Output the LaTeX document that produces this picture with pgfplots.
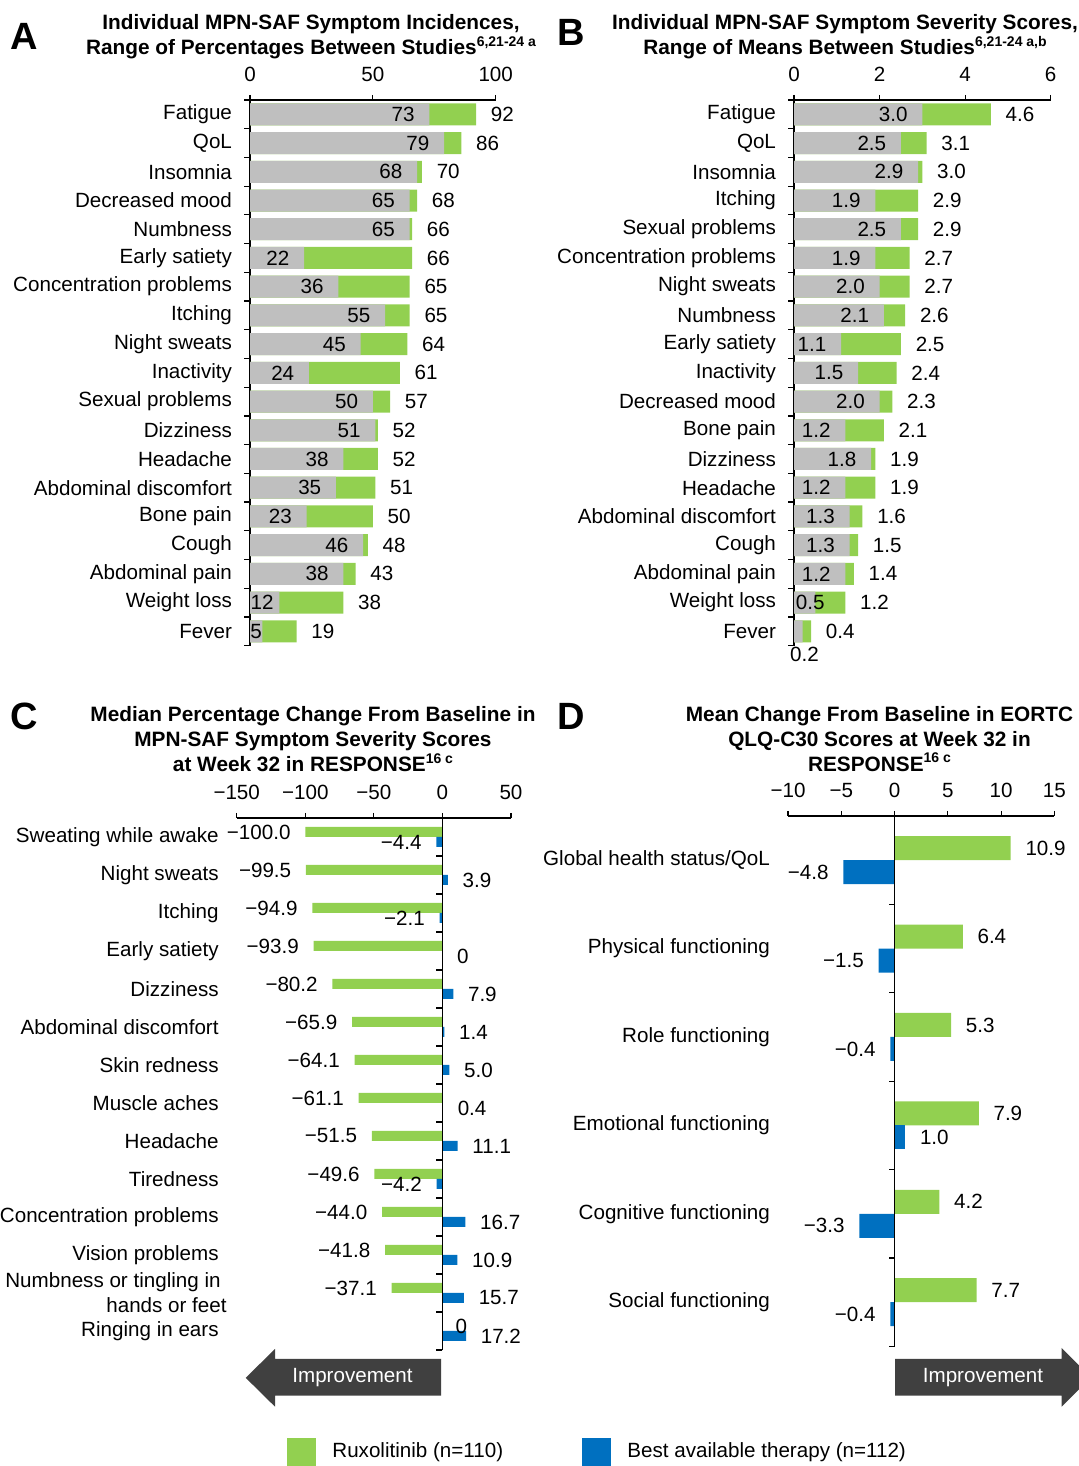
\documentclass[border=0pt]{standalone}
\usepackage{fontspec}
\setmainfont{Liberation Sans}
\usepackage{pgfplots}
\usepackage{pgfplotstable}
\pgfplotsset{compat=1.18}
\definecolor{rgreen}{HTML}{92D050}
\definecolor{rblue}{HTML}{0070C0}
\definecolor{rgray}{HTML}{BFBFBF}
\definecolor{arrowgray}{HTML}{404040}
\newcommand{\lbl}{\fontsize{10.3}{12.5}\selectfont}
\newcommand{\ttl}{\fontsize{10.4}{12.5}\selectfont\bfseries}
\newcommand{\sups}[1]{\raisebox{0.8ex}{\fontsize{7}{7}\selectfont\bfseries #1}}

% Panel A: incidences (%), low and high of range
\pgfplotstableread[col sep=comma]{
lo,hi,ldx,ldy
73,92,-7.2,0
79,86,-7.2,0
68,70,-7.2,0
65,68,-7.2,0
65,66,-7.2,0
22,66,-7.2,0
36,65,-7.2,0
55,65,-7.2,0
45,64,-7.2,0
24,61,-7.2,0
50,57,-7.2,0
51,52,-7.2,0
38,52,-7.2,0
35,51,-7.2,0
23,50,-7.2,0
46,48,-7.2,0
38,43,-7.2,0
12,38,-2.75,0
5,19,0,0
}\tblA

% Panel B: severity scores
\pgfplotstableread[col sep=comma]{
lo,hi,ldx,ldy
3.0,4.6,-7.2,0
2.5,3.1,-7.2,0
2.9,3.0,-7.2,0
1.9,2.9,-7.2,0
2.5,2.9,-7.2,0
1.9,2.7,-7.2,0
2.0,2.7,-7.2,0
2.1,2.6,-7.2,0
1.1,2.5,-7.2,0
1.5,2.4,-7.2,0
2.0,2.3,-7.2,0
1.2,2.1,-7.2,0
1.8,1.9,-7.2,0
1.2,1.9,-7.2,0
1.3,1.6,-7.2,0
1.3,1.5,-7.2,0
1.2,1.4,-7.2,0
0.5,1.2,4.8,0
0.2,0.4,8.35,-11.5
}\tblB

% Panel C: median % change, ruxolitinib
\pgfplotstableread[col sep=comma]{
i,g,glab,gdx
0,-100.0,−100.0,-7.2
1,-99.5,−99.5,-7.2
2,-94.9,−94.9,-7.2
3,-93.9,−93.9,-7.2
4,-80.2,−80.2,-7.2
5,-65.9,−65.9,-7.2
6,-64.1,−64.1,-7.2
7,-61.1,−61.1,-7.2
8,-51.5,−51.5,-7.2
9,-49.6,−49.6,-7.2
10,-44.0,−44.0,-7.2
11,-41.8,−41.8,-7.2
12,-37.1,−37.1,-7.2
13,0,0,12.5
}\tblCg
% Panel C: best available therapy, negative and non-negative values
\pgfplotstableread[col sep=comma]{
i,b,blab
0,-4.4,−4.4
2,-2.1,−2.1
9,-4.2,−4.2
}\tblCbn
\pgfplotstableread[col sep=comma]{
i,b,blab
1,3.9,3.9
3,0,0
4,7.9,7.9
5,1.4,1.4
6,5.0,5.0
7,0.4,0.4
8,11.1,11.1
10,16.7,16.7
11,10.9,10.9
12,15.7,15.7
13,17.2,17.2
}\tblCbp

% Panel D: mean change EORTC
\pgfplotstableread[col sep=comma]{
i,g,glab
0,10.9,10.9
1,6.4,6.4
2,5.3,5.3
3,7.9,7.9
4,4.2,4.2
5,7.7,7.7
}\tblDg
\pgfplotstableread[col sep=comma]{
i,b,blab
0,-4.8,−4.8
1,-1.5,−1.5
2,-0.4,−0.4
4,-3.3,−3.3
5,-0.4,−0.4
}\tblDbn
\pgfplotstableread[col sep=comma]{
i,b,blab
3,1.0,1.0
}\tblDbp

\pgfplotsset{
  myaxis/.style={
    scale only axis,
    axis x line*=top,
    axis y line*=left,
    tick align=outside,
    major tick length=2.5pt,
    ytick style={draw=none},
    xtick style={black, line width=0.6pt},
    axis line style={black, line width=0.6pt},
    tick label style={font=\lbl},
    xticklabel style={yshift=3pt},
    yticklabel style={font=\lbl, align=right, xshift=-3pt},
    /pgf/number format/assume math mode=true,
    clip=false,
    enlargelimits=false,
  },
  hibar/.style={xbar, bar width=11pt, bar shift=0pt, fill=rgreen, draw=none,
    nodes near coords, point meta=explicit symbolic,
    nodes near coords style={anchor=west, xshift=7.2pt, inner sep=0pt, font=\lbl, text=black}},
  lobar/.style={xbar, bar width=11pt, bar shift=0pt, fill=rgray, draw=none,
    nodes near coords, point meta=explicit symbolic,
    visualization depends on={\thisrow{ldx} \as \ldx},
    visualization depends on={\thisrow{ldy} \as \ldy},
    nodes near coords style={anchor=east, xshift=\ldx pt, yshift=\ldy pt, inner sep=0pt, font=\lbl, text=black}},
  negbar/.style={xbar, draw=none, bar shift=#1,
    nodes near coords, point meta=explicit symbolic,
    nodes near coords style={anchor=east, xshift=-7.2pt, yshift=#1, inner sep=0pt, font=\lbl, text=black}},
  posbar/.style={xbar, draw=none, bar shift=#1,
    nodes near coords, point meta=explicit symbolic,
    nodes near coords style={anchor=west, xshift=7.2pt, yshift=#1, inner sep=0pt, font=\lbl, text=black}},
}

\begin{document}
\begin{tikzpicture}
\useasboundingbox (0pt,0pt) rectangle (539.5pt,733pt);

% ---------------- Panel A ----------------
\begin{axis}[myaxis,
  at={(125pt,683pt)}, anchor=north west,
  width=122.85pt, height=272.85pt,
  xmin=0, xmax=100, ymin=-18.5, ymax=0.5,
  xtick={0,50,100},
  ytick={0,-1,...,-18},
  yticklabels={Fatigue,QoL,Insomnia,Decreased mood,Numbness,Early satiety,Concentration problems,Itching,Night sweats,Inactivity,Sexual problems,Dizziness,Headache,Abdominal discomfort,Bone pain,Cough,Abdominal pain,Weight loss,Fever},
]
\addplot[hibar] table[x=hi, y expr=-\coordindex, meta=hi] {\tblA};
\addplot[lobar] table[x=lo, y expr=-\coordindex, meta=lo] {\tblA};
\pgfplotsinvokeforeach{-18.5,-17.5,...,0.5}{\draw[line width=0.6pt] (axis cs:0,#1) -- ++(-3pt,0pt);}
\end{axis}

% ---------------- Panel B ----------------
\begin{axis}[myaxis,
  at={(397pt,683pt)}, anchor=north west,
  width=128.35pt, height=272.85pt,
  xmin=0, xmax=6, ymin=-18.5, ymax=0.5,
  xtick={0,2,4,6},
  ytick={0,-1,...,-18},
  yticklabels={Fatigue,QoL,Insomnia,Itching,Sexual problems,Concentration problems,Night sweats,Numbness,Early satiety,Inactivity,Decreased mood,Bone pain,Dizziness,Headache,Abdominal discomfort,Cough,Abdominal pain,Weight loss,Fever},
]
\addplot[hibar] table[x=hi, y expr=-\coordindex, meta=hi] {\tblB};
\addplot[lobar] table[x=lo, y expr=-\coordindex, meta=lo] {\tblB};
\pgfplotsinvokeforeach{-18.5,-17.5,...,0.5}{\draw[line width=0.6pt] (axis cs:0,#1) -- ++(-3pt,0pt);}
\end{axis}

% ---------------- Panel C ----------------
\begin{axis}[myaxis,
  at={(118.35pt,324pt)}, anchor=north west,
  width=137.15pt, height=266pt,
  xmin=-150, xmax=50, ymin=-13.5, ymax=0.5,
  y axis line style={draw=none},
  xtick={-150,-100,-50,0,50},
  xticklabels={−150,−100,−50,0,50},
  ytick={0,-1,...,-13},
  yticklabels={Sweating while awake,Night sweats,Itching,Early satiety,Dizziness,Abdominal discomfort,Skin redness,Muscle aches,Headache,Tiredness,Concentration problems,Vision problems,{Numbness or tingling in\hspace*{-1pt}\\hands or feet\hspace*{-4pt}},Ringing in ears},
]
\addplot[xbar, bar width=5pt, bar shift=2.5pt, fill=rgreen, draw=none,
  nodes near coords, point meta=explicit symbolic,
  visualization depends on={\thisrow{gdx} \as \gdx},
  nodes near coords style={anchor=east, xshift=\gdx pt, yshift=2.5pt, inner sep=0pt, font=\lbl, text=black}]
  table[x=g, y expr=-\thisrow{i}, meta=glab] {\tblCg};
\addplot[negbar=-2.5pt, bar width=5pt, fill=rblue]
  table[x=b, y expr=-\thisrow{i}, meta=blab] {\tblCbn};
\addplot[posbar=-2.5pt, bar width=5pt, fill=rblue]
  table[x=b, y expr=-\thisrow{i}, meta=blab] {\tblCbp};
\draw[line width=0.6pt] (axis cs:0,0.5) -- (axis cs:0,-13.5);
\pgfplotsinvokeforeach{-13.5,-12.5,...,0.5}{\draw[line width=0.6pt] (axis cs:0,#1) -- ++(-3pt,0pt);}
\end{axis}

% ---------------- Panel D ----------------
\begin{axis}[myaxis,
  at={(394pt,325pt)}, anchor=north west,
  width=133.2pt, height=265.2pt,
  xmin=-10, xmax=15, ymin=-5.5, ymax=0.5,
  y axis line style={draw=none},
  xtick={-10,-5,0,5,10,15},
  xticklabels={−10,−5,0,5,10,15},
  ytick={0,-1,...,-5},
  yticklabels={Global health status/QoL,Physical functioning,Role functioning,Emotional functioning,Cognitive functioning,Social functioning},
]
\addplot[posbar=6pt, bar width=12pt, fill=rgreen]
  table[x=g, y expr=-\thisrow{i}, meta=glab] {\tblDg};
\addplot[negbar=-6pt, bar width=12pt, fill=rblue]
  table[x=b, y expr=-\thisrow{i}, meta=blab] {\tblDbn};
\addplot[posbar=-6pt, bar width=12pt, fill=rblue]
  table[x=b, y expr=-\thisrow{i}, meta=blab] {\tblDbp};
\draw[line width=0.6pt] (axis cs:0,0.5) -- (axis cs:0,-5.5);
\pgfplotsinvokeforeach{-5.5,-4.5,...,0.5}{\draw[line width=0.6pt] (axis cs:0,#1) -- ++(-3pt,0pt);}
\end{axis}

% ---------------- Titles, arrows, legend ----------------
\begin{scope}[x=0.5pt, y=-0.5pt, shift={(0pt,733pt)}]
\node[font=\fontsize{19}{20}\selectfont\bfseries, inner sep=0pt] at (24.5,36) {A};
\node[font=\fontsize{19}{20}\selectfont\bfseries, inner sep=0pt] at (571,32) {B};
\node[font=\fontsize{19}{20}\selectfont\bfseries, inner sep=0pt] at (24,716) {C};
\node[font=\fontsize{19}{20}\selectfont\bfseries, inner sep=0pt] at (571,716) {D};

\node[font=\ttl, align=center, inner sep=0pt] at (311,37)
  {Individual MPN-SAF Symptom Incidences,\\Range of Percentages Between Studies\sups{6,21-24 a}};
\node[font=\ttl, align=center, inner sep=0pt] at (845,37)
  {Individual MPN-SAF Symptom Severity Scores,\\Range of Means Between Studies\sups{6,21-24 a,b}};
\node[font=\ttl, align=center, inner sep=0pt] at (313,739.5)
  {Median Percentage Change From Baseline in\\MPN-SAF Symptom Severity Scores\\at Week 32 in RESPONSE\sups{16 c}};
\node[font=\ttl, align=center, inner sep=0pt] at (879.5,739)
  {Mean Change From Baseline in EORTC\\QLQ-C30 Scores at Week 32 in\\RESPONSE\sups{16 c}};

\fill[arrowgray] (441,1359) -- (275,1359) -- (275,1349) -- (245.7,1377.8) -- (275,1406.7) -- (275,1395.7) -- (441,1395.7) -- cycle;
\node[text=white, font=\lbl] at (352.5,1377.5) {Improvement};
\fill[arrowgray] (895,1359) -- (1061.7,1359) -- (1061.7,1348) -- (1091,1377.5) -- (1061.7,1406.7) -- (1061.7,1395.7) -- (895,1395.7) -- cycle;
\node[text=white, font=\lbl] at (983,1377.5) {Improvement};

\fill[rgreen] (287,1438) rectangle (316,1466);
\node[anchor=west, font=\lbl, inner sep=0pt] at (332,1452) {Ruxolitinib (n=110)};
\fill[rblue] (582,1438) rectangle (611,1466);
\node[anchor=west, font=\lbl, inner sep=0pt] at (627,1452) {Best available therapy (n=112)};
\end{scope}
\end{tikzpicture}
\end{document}
